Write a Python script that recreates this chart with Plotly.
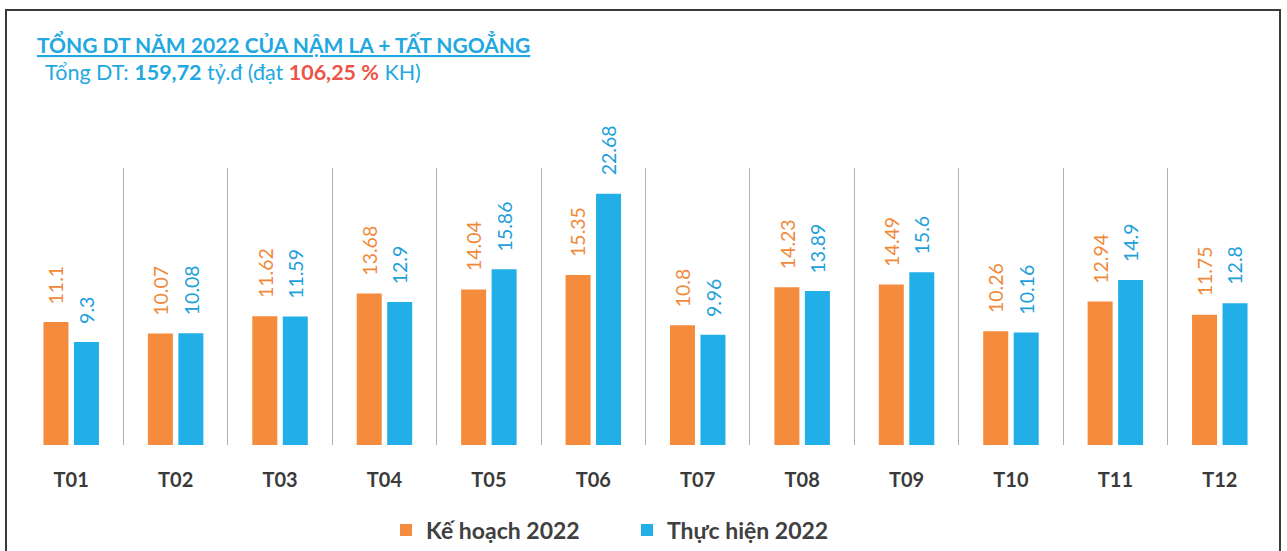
import plotly.graph_objects as go

# Monthly revenue (billion VND), plan vs actual, 2022
months = ["T01", "T02", "T03", "T04", "T05", "T06",
          "T07", "T08", "T09", "T10", "T11", "T12"]
plan_2022 = [11.1, 10.07, 11.62, 13.68, 14.04, 15.35,
             10.8, 14.23, 14.49, 10.26, 12.94, 11.75]
actual_2022 = [9.3, 10.08, 11.59, 12.9, 15.86, 22.68,
               9.96, 13.89, 15.6, 10.16, 14.9, 12.8]
series_names = ["Kế hoạch 2022", "Thực hiện 2022"]

title_text = "TỔNG DT NĂM 2022 CỦA NẬM LA + TẤT NGOẲNG"
total_text = "159,72"
percent_text = "106,25 %"

W, H = 1287, 551
ML, MR, MT, MB = 19, 15, 168, 106
PW = W - ML - MR
PH = H - MT - MB

ORANGE = "#F58B3C"
BLUE = "#22AEE6"
ORANGE_TXT = "#F08A3A"
BLUE_TXT = "#229FDB"
CYAN = "#22A8E0"
RED = "#EC5448"
FONT = "Lato, 'Noto Sans', sans-serif"


def px_x(p):
    return (p - ML) / PW


def px_y(p):
    return (H - MB - p) / PH


fig = go.Figure()
fig.add_trace(go.Bar(x=months, y=plan_2022, name=series_names[0],
                     marker=dict(color=ORANGE, line=dict(width=0))))
fig.add_trace(go.Bar(x=months, y=actual_2022, name=series_names[1],
                     marker=dict(color=BLUE, line=dict(width=0))))

annotations = []
# rotated value labels above each bar
for vals, shift, col in ((plan_2022, -15.25, ORANGE_TXT), (actual_2022, 15.25, BLUE_TXT)):
    for m, v in zip(months, vals):
        annotations.append(dict(
            x=m, y=v, xref="x", yref="y", text=f"{v:g}", showarrow=False,
            textangle=-90, xshift=shift, yshift=16, yanchor="bottom", xanchor="center",
            font=dict(family=FONT, size=19.5, color=col)))

annotations.append(dict(
    x=px_x(35), y=px_y(43), xref="paper", yref="paper", xanchor="left", yanchor="middle",
    text=f"<b><u>{title_text}</u></b>", showarrow=False,
    font=dict(family=FONT, size=21, color=CYAN)))
annotations.append(dict(
    x=px_x(43), y=px_y(72), xref="paper", yref="paper", xanchor="left", yanchor="middle",
    text=(f"Tổng DT: <b>{total_text}</b> tỷ.đ (đạt "
          f"<b><span style='color:{RED}'>{percent_text}</span></b> KH)"),
    showarrow=False, font=dict(family=FONT, size=21.5, color=CYAN)))

shapes = [dict(type="rect", xref="paper", yref="paper",
               x0=px_x(6), x1=px_x(1280), y0=px_y(10), y1=px_y(570),
               line=dict(color="#3a3a3a", width=2), layer="above")]

fig.update_layout(
    width=W, height=H,
    margin=dict(l=ML, r=MR, t=MT, b=MB, pad=0),
    paper_bgcolor="white", plot_bgcolor="white",
    barmode="group", bargap=0.416, bargroupgap=0.18,
    font=dict(family=FONT),
    xaxis=dict(type="category", tickson="boundaries", showgrid=True,
               gridcolor="#AEB3B8", gridwidth=1, ticks="", showline=False,
               zeroline=False, ticklabelstandoff=21,
               tickfont=dict(family=FONT, size=20, color="#3a3a3a", weight="bold")),
    yaxis=dict(range=[0, 25], visible=False, showgrid=False, zeroline=False),
    showlegend=True,
    legend=dict(orientation="h", xref="container", yref="container",
                x=386 / W, y=1 - 530 / H, xanchor="left", yanchor="middle",
                font=dict(family=FONT, size=23, color="#404040", weight="bold"),
                itemwidth=30, entrywidth=196, bgcolor="rgba(0,0,0,0)"),
    annotations=annotations,
    shapes=shapes,
)

fig.write_html("out.html")
